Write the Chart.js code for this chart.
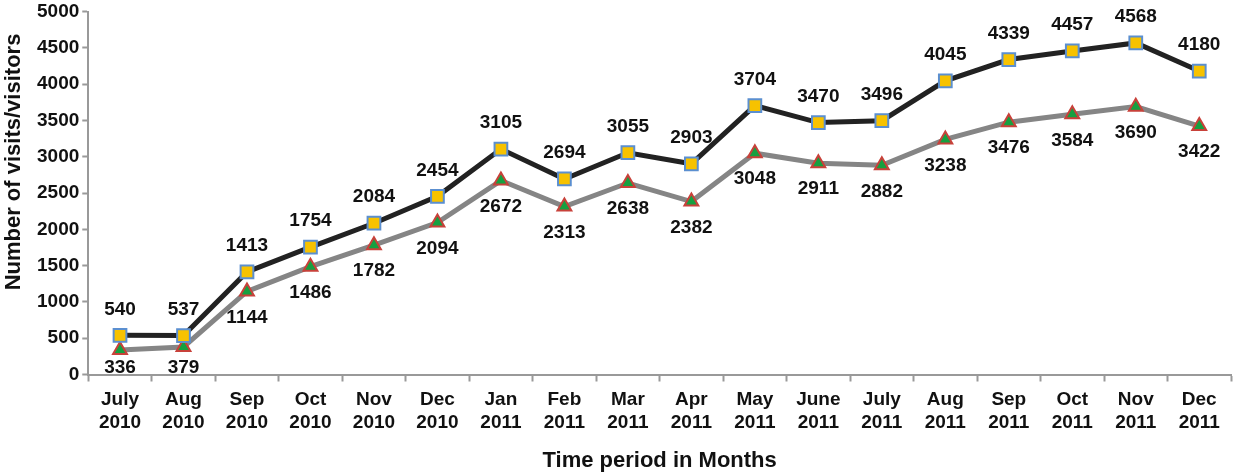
<!DOCTYPE html>
<html>
<head>
<meta charset="utf-8">
<script src="https://cdn.jsdelivr.net/npm/chart.js@4/dist/chart.umd.min.js"></script>
<style>
  html, body { margin: 0; padding: 0; background: #fff; }
  #wrap { width: 1242px; height: 472px; }
</style>
</head>
<body>
<div id="wrap"><canvas id="canvas1" width="1242" height="472"></canvas></div>
<script>
var months = [
  ['July', '2010'], ['Aug', '2010'], ['Sep', '2010'], ['Oct', '2010'], ['Nov', '2010'], ['Dec', '2010'],
  ['Jan', '2011'], ['Feb', '2011'], ['Mar', '2011'], ['Apr', '2011'], ['May', '2011'], ['June', '2011'],
  ['July', '2011'], ['Aug', '2011'], ['Sep', '2011'], ['Oct', '2011'], ['Nov', '2011'], ['Dec', '2011']
];
var visits = [540, 537, 1413, 1754, 2084, 2454, 3105, 2694, 3055, 2903, 3704, 3470, 3496, 4045, 4339, 4457, 4568, 4180];
var visitors = [336, 379, 1144, 1486, 1782, 2094, 2672, 2313, 2638, 2382, 3048, 2911, 2882, 3238, 3476, 3584, 3690, 3422];

var fontFam = '"Liberation Sans", Arial, sans-serif';

// draws the value next to every point, above for visits and below for visitors
var valueLabels = {
  id: 'valueLabels',
  afterDatasetsDraw: function(chart) {
    var ctx = chart.ctx;
    var bottom = chart.chartArea.bottom;
    ctx.save();
    ctx.font = 'bold 19px ' + fontFam;
    ctx.fillStyle = '#111';
    ctx.textAlign = 'center';
    ctx.textBaseline = 'middle';
    chart.data.datasets.forEach(function(ds, di) {
      var meta = chart.getDatasetMeta(di);
      meta.data.forEach(function(pt, i) {
        var y = di === 0 ? pt.y - 26 : Math.min(pt.y + 26, bottom - 7);
        ctx.fillText(ds.data[i], pt.x, y);
      });
    });
    ctx.restore();
  }
};

// y axis title, sitting a bit above the middle like in the original
var yTitle = {
  id: 'yTitle',
  afterDraw: function(chart) {
    var ctx = chart.ctx;
    ctx.save();
    ctx.translate(14, 162);
    ctx.rotate(-Math.PI / 2);
    ctx.font = 'bold 22px ' + fontFam;
    ctx.fillStyle = '#111';
    ctx.textAlign = 'center';
    ctx.textBaseline = 'middle';
    ctx.fillText('Number of visits/visitors', 0, 0);
    ctx.restore();
  }
};

var chartdata = {
  labels: months,
  datasets: [
    {
      label: 'visits',
      data: visits,
      borderColor: '#222222',
      borderWidth: 5,
      pointStyle: 'rect',
      pointRadius: 9,
      pointBackgroundColor: '#f7c200',
      pointBorderColor: '#5b8fd0',
      pointBorderWidth: 2,
      tension: 0
    },
    {
      label: 'visitors',
      data: visitors,
      borderColor: '#858585',
      borderWidth: 5,
      pointStyle: 'triangle',
      pointRadius: 8,
      pointBackgroundColor: '#16a040',
      pointBorderColor: '#c8413a',
      pointBorderWidth: 2,
      tension: 0
    }
  ]
};

var ctx = document.getElementById('canvas1');
var lineGraph = new Chart(ctx, {
  type: 'line',
  data: chartdata,
  plugins: [valueLabels, yTitle],
  options: {
    responsive: false,
    animation: false,
    layout: { padding: { top: 11, right: 7, left: 34, bottom: 0 } },
    plugins: {
      legend: { display: false },
      tooltip: { enabled: false }
    },
    scales: {
      x: {
        offset: true,
        grid: { display: true, drawOnChartArea: false, offset: true, color: '#999', tickLength: 7, tickWidth: 2 },
        border: { color: '#999', width: 2 },
        ticks: {
          color: '#111',
          font: { family: fontFam, size: 19, weight: 'bold', lineHeight: 1.25 },
          maxRotation: 0,
          autoSkip: false,
          padding: 6
        },
        title: {
          display: true,
          text: 'Time period in Months',
          color: '#111',
          font: { family: fontFam, size: 22, weight: 'bold', lineHeight: 1.0 },
          padding: { top: 9, bottom: 0 }
        }
      },
      y: {
        min: 0,
        max: 5000,
        grid: { display: true, drawOnChartArea: false, color: '#999', tickLength: 6, tickWidth: 2 },
        border: { color: '#999', width: 2 },
        ticks: {
          stepSize: 500,
          color: '#111',
          font: { family: fontFam, size: 19, weight: 'bold', lineHeight: 0.9 },
          padding: 3,
          callback: function(v) { return String(v); }
        }
      }
    }
  }
});
</script>
</body>
</html>
